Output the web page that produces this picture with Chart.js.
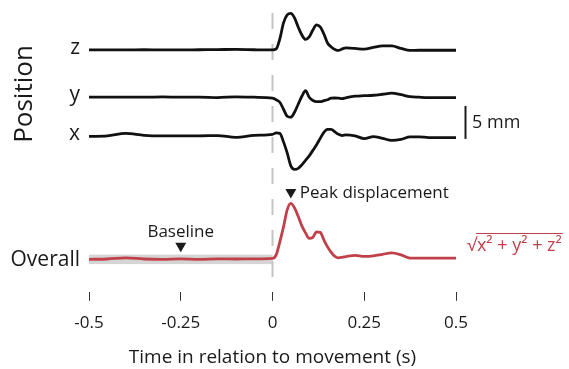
<!DOCTYPE html>
<html>
<head>
<meta charset="utf-8">
<script src="https://cdn.jsdelivr.net/npm/chart.js@4.4.1/dist/chart.umd.min.js"></script>
<style>
  body { margin: 0; background: #fff; }
  canvas { display: block; }
</style>
</head>
<body>
<canvas id="motionChart" width="569" height="369"></canvas>
<script>
// time relative to movement onset (s)
const time = [
  -0.5, -0.45, -0.4, -0.35, -0.3, -0.25, -0.2, -0.15, -0.1, -0.05,
  0, 0.01, 0.02, 0.03, 0.04, 0.05, 0.06, 0.07, 0.08, 0.09,
  0.1, 0.11, 0.12, 0.13, 0.14, 0.15, 0.16, 0.17, 0.18, 0.19,
  0.2, 0.225, 0.25, 0.275, 0.3, 0.325, 0.35, 0.375, 0.4, 0.425, 0.45, 0.475, 0.5
];

// displacement from resting position (mm)
const posZ = [
  0, 0, 0, 0.03, 0, 0, 0.03, 0.05, 0.08, 0.03,
  0, 0.15, 1.67, 4.09, 5.3, 5.53, 4.85, 3.48, 2.27, 1.59,
  1.97, 3.03, 3.79, 3.48, 2.42, 1.06, 0.45, 0.08, -0.08, 0.15,
  0.3, 0.23, 0.11, 0.38, 0.61, 0.61, 0.23, -0.08, -0.05, -0.05, -0.05, -0.05, -0.05
];
const posY = [
  0, 0, 0, 0, 0.05, 0, 0, -0.05, 0.05, 0,
  -0.15, -0.38, -0.76, -1.82, -2.88, -3.03, -2.27, -1.06, 0.15, 0.98,
  0, -0.5, -0.68, -0.68, -0.53, -0.38, -0.15, -0.12, -0.15, -0.2,
  -0.08, 0.15, 0.23, 0.3, 0.45, 0.61, 0.38, 0.08, 0, -0.05, -0.05, -0.05, -0.05
];
const posX = [
  -0.08, 0, 0.38, 0.08, 0, 0, 0, 0.05, -0.23, 0.08,
  0.23, 0.45, 0.38, -0.91, -2.58, -4.55, -5.08, -4.92, -4.39, -3.71,
  -3.03, -2.2, -1.36, -0.38, 0.53, 0.98, 0.98, 0.61, 0.23, 0.05,
  0.15, 0, -0.41, -0.12, -0.38, -0.68, -0.53, -0.15, -0.15, -0.26, -0.26, -0.26, -0.26
];
const overall = [
  0, 0.05, 0.23, 0.05, 0, 0.08, 0, 0.08, 0.05, 0.08,
  0.15, 0.68, 2.65, 4.92, 7.5, 8.48, 7.8, 6.52, 5.08, 4.02,
  3.18, 3.33, 4.17, 4.09, 2.95, 1.89, 1.06, 0.45, 0.23, 0.3,
  0.41, 0.61, 0.45, 0.53, 0.76, 0.98, 0.68, 0.18, 0.18, 0.18, 0.18, 0.18, 0.18
];

const tickValues = [-0.5, -0.25, 0, 0.25, 0.5];
const tickLabels = ['-0.5', '-0.25', '0', '0.25', '0.5'];
const baselineTime = -0.25;
const scaleBarMm = 5;

// vertical offsets (mm) used to stack the traces
const offsetZ = 36.67;
const offsetY = 29.5;
const offsetX = 23.64;
const offsetOverall = 4.92;

const RED = '#c1414b';
const INK = '#1a1a1a';
const FONT = '"Open Sans", "Noto Sans", sans-serif';

const series = (vals, off) => time.map((t, i) => ({ x: t, y: vals[i] + off }));

function triangle(ctx, cx, cy) {
  ctx.beginPath();
  ctx.moveTo(cx - 5.5, cy - 4.5);
  ctx.lineTo(cx + 5.5, cy - 4.5);
  ctx.lineTo(cx, cy + 5);
  ctx.closePath();
  ctx.fill();
}

const decorations = {
  id: 'decorations',
  beforeDatasetsDraw(chart) {
    const { ctx, scales: { x, y } } = chart;
    ctx.save();
    // baseline window shading
    const x0 = x.getPixelForValue(-0.5);
    const x1 = x.getPixelForValue(0);
    const top = y.getPixelForValue(offsetOverall + 0.72);
    const bot = y.getPixelForValue(offsetOverall - 0.72);
    ctx.fillStyle = '#d5d5d5';
    ctx.fillRect(x0, top, x1 - x0, bot - top);
    // movement onset
    ctx.strokeStyle = '#c4c4c4';
    ctx.lineWidth = 2;
    ctx.setLineDash([16, 15]);
    ctx.beginPath();
    ctx.moveTo(x1, 13);
    ctx.lineTo(x1, 290);
    ctx.stroke();
    ctx.restore();
  },
  afterDatasetsDraw(chart) {
    const { ctx, scales: { x, y } } = chart;
    ctx.save();
    ctx.fillStyle = INK;
    ctx.textBaseline = 'middle';

    // trace names
    ctx.textAlign = 'right';
    ctx.font = '21px ' + FONT;
    ctx.fillText('z', 80, y.getPixelForValue(offsetZ) - 2);
    ctx.fillText('y', 80, y.getPixelForValue(offsetY) - 2);
    ctx.fillText('x', 80, y.getPixelForValue(offsetX) - 2);
    ctx.fillText('Overall', 80, y.getPixelForValue(offsetOverall) + 1);

    // axis name
    ctx.save();
    ctx.translate(25, 94);
    ctx.rotate(-Math.PI / 2);
    ctx.textAlign = 'center';
    ctx.font = '26px ' + FONT;
    ctx.fillText('Position', 0, 0);
    ctx.restore();

    // peak marker
    let peak = 0;
    overall.forEach((v, i) => { if (v > overall[peak]) peak = i; });
    const px = x.getPixelForValue(time[peak]);
    const py = y.getPixelForValue(overall[peak] + offsetOverall) - 10;
    triangle(ctx, px, py);
    ctx.textAlign = 'left';
    ctx.font = '17px ' + FONT;
    ctx.fillText('Peak displacement', px + 9, py);

    // baseline marker
    const bx = x.getPixelForValue(baselineTime);
    const by = y.getPixelForValue(offsetOverall) - 12;
    triangle(ctx, bx, by);
    ctx.textAlign = 'center';
    ctx.fillText('Baseline', bx, by - 15);

    // scale bar
    const sbBottom = y.getPixelForValue(23.18);
    const sbTop = y.getPixelForValue(23.18 + scaleBarMm);
    ctx.strokeStyle = INK;
    ctx.lineWidth = 2;
    ctx.beginPath();
    ctx.moveTo(465.5, sbTop);
    ctx.lineTo(465.5, sbBottom);
    ctx.stroke();
    ctx.textAlign = 'left';
    ctx.font = '18px ' + FONT;
    ctx.fillText(scaleBarMm + ' mm', 472, (sbTop + sbBottom) / 2);

    // magnitude formula
    ctx.fillStyle = RED;
    ctx.strokeStyle = RED;
    ctx.font = '18px ' + FONT;
    const fy = 246;
    const root = '√';
    const rw = ctx.measureText(root).width;
    ctx.fillText(root + 'x² + y² + z²', 467, fy);
    const fw = ctx.measureText(root + 'x² + y² + z²').width;
    ctx.lineWidth = 1;
    ctx.beginPath();
    ctx.moveTo(467 + rw - 1, fy - 12.5);
    ctx.lineTo(467 + fw + 1, fy - 12.5);
    ctx.stroke();
    ctx.restore();
  }
};

const lineStyle = (color) => ({
  borderColor: color,
  borderWidth: 2.8,
  pointRadius: 0,
  fill: false,
  cubicInterpolationMode: 'monotone'
});

new Chart(document.getElementById('motionChart'), {
  type: 'line',
  data: {
    datasets: [
      { label: 'z', data: series(posZ, offsetZ), ...lineStyle('#111') },
      { label: 'y', data: series(posY, offsetY), ...lineStyle('#111') },
      { label: 'x', data: series(posX, offsetX), ...lineStyle('#111') },
      { label: 'Overall', data: series(overall, offsetOverall), ...lineStyle(RED) }
    ]
  },
  options: {
    responsive: false,
    animation: false,
    layout: { padding: { left: 89, right: 113, top: 0, bottom: 0 } },
    plugins: { legend: { display: false }, tooltip: { enabled: false } },
    scales: {
      x: {
        type: 'linear',
        min: -0.5,
        max: 0.5,
        afterBuildTicks: (axis) => { axis.ticks = tickValues.map(v => ({ value: v })); },
        ticks: {
          color: INK,
          font: { family: FONT, size: 17 },
          padding: 12,
          maxRotation: 0,
          callback: (v) => tickLabels[tickValues.indexOf(v)]
        },
        grid: { drawOnChartArea: false, drawTicks: true, tickLength: 9, color: '#333', lineWidth: 1 },
        border: { display: false },
        title: {
          display: true,
          text: 'Time in relation to movement (s)',
          color: INK,
          font: { family: FONT, size: 19 },
          padding: { top: 1, bottom: 0 }
        }
      },
      y: {
        display: false,
        min: 0,
        max: 44.24
      }
    }
  },
  plugins: [decorations]
});
</script>
</body>
</html>
